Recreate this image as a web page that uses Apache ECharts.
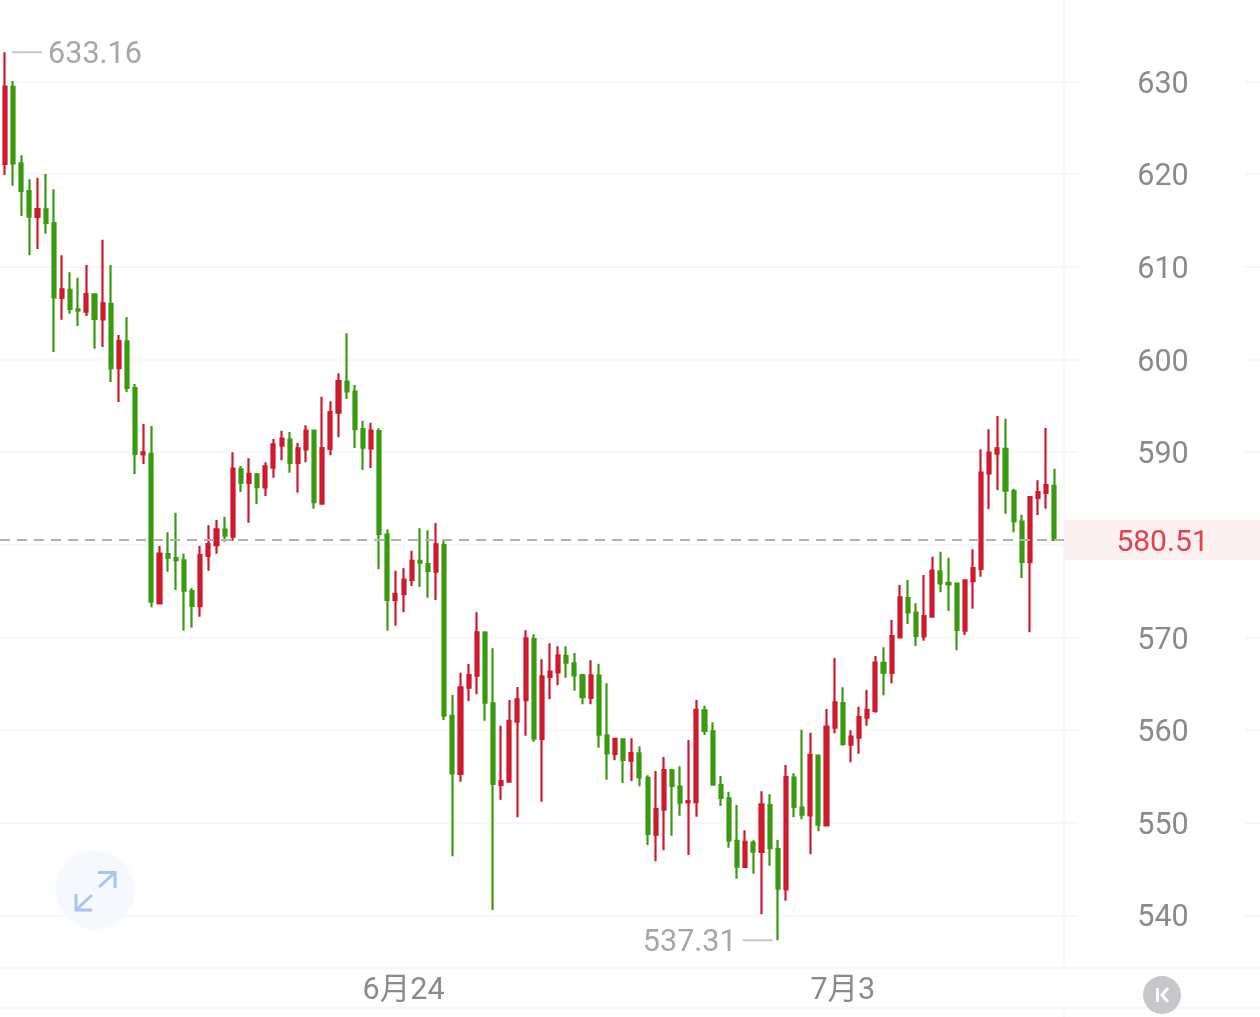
<!DOCTYPE html>
<html>
<head>
<meta charset="utf-8">
<style>html,body{margin:0;padding:0;background:#fff}#chart{width:1260px;height:1017px}</style>
<script src="https://cdn.jsdelivr.net/npm/echarts@6/dist/echarts.min.js"></script>
</head>
<body>
<div id="chart"></div>
<script>
// Four-hour candles, oldest first.
const opens = [
621.10,629.41,621.17,618.18,615.38,616.21,614.73,606.63,607.50,605.41,
605.15,607.03,604.33,605.99,599.05,601.96,596.92,589.76,589.80,573.68,
579.00,578.57,578.32,575.01,573.36,578.79,579.97,581.63,580.87,588.15,
586.67,587.61,586.20,588.32,590.69,591.34,588.83,590.30,592.31,584.43,
590.34,594.25,597.60,596.52,592.49,590.41,592.28,581.09,574.04,574.66,
576.20,578.25,577.92,577.09,579.97,561.52,555.26,564.57,565.87,570.51,
562.89,554.07,554.43,560.90,563.24,569.83,559.04,565.73,566.23,568.00,
567.20,565.91,563.46,565.87,559.44,557.42,559.00,556.70,557.49,554.83,
548.71,551.40,555.66,553.89,552.20,552.23,562.13,559.87,554.07,552.63,
548.03,545.22,547.84,546.84,551.91,547.16,542.81,554.86,551.62,550.80,
557.24,549.72,560.25,562.92,558.42,559.18,561.33,562.06,567.24,566.16,
570.01,574.25,572.67,570.12,572.23,577.14,575.90,575.80,570.72,576.07,
577.38,587.71,589.83,590.34,585.80,582.49,578.11,585.05,585.59,586.37];
const closes = [
629.44,621.17,618.18,615.41,616.24,614.73,606.71,607.57,605.45,605.26,
607.06,604.37,606.06,599.05,601.99,596.92,589.80,589.98,573.85,579.04,
578.60,578.35,575.04,573.39,578.89,580.08,581.67,580.98,588.21,586.70,
587.64,586.23,588.47,590.84,591.45,588.83,590.41,592.31,584.61,590.44,
594.33,597.67,596.56,592.49,590.48,592.31,581.16,574.04,574.69,576.23,
578.25,578.07,577.17,580.05,561.55,555.33,564.62,565.94,570.55,562.95,
554.18,554.50,560.98,563.32,569.90,559.07,565.80,566.30,568.07,567.27,
565.91,563.54,565.91,559.50,557.49,559.04,556.77,557.52,554.90,548.78,
551.48,555.69,553.96,552.16,552.34,562.17,559.90,554.10,552.67,548.10,
545.25,547.92,546.87,551.99,547.24,542.88,554.93,551.70,550.87,557.31,
549.79,560.36,563.00,558.50,559.28,561.41,562.17,567.27,566.19,570.15,
574.33,572.71,570.15,572.31,577.20,575.84,575.73,570.80,576.16,577.49,
587.78,589.94,590.41,585.83,582.53,578.14,585.15,585.69,586.45,580.51];
const lows = [
619.91,618.75,615.48,611.24,611.92,613.57,600.80,604.29,604.94,603.61,
604.69,601.16,601.34,597.57,595.41,596.49,587.64,588.72,573.25,573.64,
577.09,575.12,570.72,571.05,572.24,577.20,579.04,580.33,580.44,585.69,
582.38,584.40,585.26,587.24,589.12,587.78,585.62,588.90,583.89,584.32,
589.66,591.60,595.73,590.44,588.07,588.28,577.35,570.72,571.26,572.71,
575.55,575.44,574.29,574.04,561.09,546.38,554.43,563.14,563.86,561.01,
540.58,552.48,554.43,550.58,559.39,558.74,552.27,563.32,564.83,565.65,
564.25,562.78,562.78,558.10,554.64,556.74,554.29,554.50,553.93,547.60,
545.84,547.02,548.60,550.76,546.52,550.65,559.47,554.10,551.80,547.30,
543.96,545.22,544.50,540.12,545.36,537.31,541.58,550.58,550.37,546.59,
549.07,549.68,559.65,558.31,556.52,557.45,560.47,561.87,563.75,565.05,
569.94,571.45,569.07,569.65,572.23,574.87,572.85,568.61,570.26,573.10,
576.55,583.86,585.91,583.35,581.35,576.41,570.55,583.21,583.89,580.47];
const highs = [
633.16,630.05,622.03,619.44,619.62,620.02,618.37,611.24,609.41,608.82,
610.19,607.06,612.93,610.19,602.64,604.58,597.35,593.03,592.82,579.87,
581.35,583.46,579.04,575.33,579.87,582.10,582.67,583.03,589.98,588.50,
589.33,587.75,588.90,591.42,592.31,592.17,590.98,592.89,592.31,595.98,
595.48,598.51,602.82,597.24,593.39,593.17,592.57,581.67,577.20,577.46,
579.36,581.78,581.56,582.35,580.44,563.79,566.19,567.13,572.71,570.66,
568.82,560.47,563.24,564.65,570.77,570.34,567.64,569.36,569.04,569.04,
568.32,566.08,567.53,567.16,565.05,559.04,559.00,559.11,558.25,555.12,
555.58,557.09,555.83,556.09,558.93,563.24,562.63,560.84,555.04,553.35,
551.91,549.18,548.10,553.39,553.07,548.13,556.23,555.33,560.04,559.72,
557.28,562.27,567.78,564.62,559.97,562.52,564.32,568.00,568.93,571.88,
575.66,576.20,573.68,576.74,578.71,579.25,578.60,575.84,576.27,579.51,
590.30,592.46,593.90,593.61,586.05,583.24,585.26,586.96,592.60,588.21];

// Date labels sit under the candle that opens each of these days.
const dateTicks = {49: '6月24', 103: '7月3'};
const categories = opens.map((_, i) => dateTicks[i] || '');

const candles = opens.map((o, i) => [o, closes[i], lows[i], highs[i]]);
const lastPrice = closes[closes.length - 1];
const highest = Math.max(...highs);
const lowest = Math.min(...lows);
const highIndex = highs.indexOf(highest);
const lowIndex = lows.indexOf(lowest);

const FONT = 'Roboto, "Noto Sans CJK SC", sans-serif';
const TEXT_SIZE = 30.5;
const RULE = '#f7f7f7';
const UP = '#cf1a2e';
const DOWN = '#3a9b10';
const PLOT = {top: -11.15, height: 1019.15, outerBoundsMode: 'none'};   // keeps the 530..640 scale aligned across grids

const priceAxis = (gridIndex, extra) => Object.assign({
  type: 'value', gridIndex, min: 530, max: 640, interval: 10, scale: true,
  axisLine: {show: false}, axisTick: {show: false}, axisLabel: {show: false},
  splitLine: {show: false}
}, extra);
const hiddenX = (gridIndex) => ({type: 'value', gridIndex, min: 0, max: 1, show: false});
const hiddenY = (gridIndex) => ({type: 'value', gridIndex, min: 0, max: 1, show: false});
const ruleStyle = {color: RULE, width: 2};
const dividerAxis = (gridIndex) => ({
  type: 'value', gridIndex, min: 0, max: 1, position: 'left',
  axisLabel: {show: false}, axisTick: {show: false}, splitLine: {show: false},
  axisLine: {show: true, lineStyle: ruleStyle}
});

const extremeMark = (coord, value, lineShift, labelShift) => ({
  coord, value,
  symbol: 'rect', symbolSize: [30, 2], symbolOffset: [lineShift, 0],
  itemStyle: {color: '#c8c8c8'},
  label: {
    show: true, position: 'inside', offset: [labelShift, 3],
    formatter: String(value.toFixed(2)),
    color: '#a6a6a6', fontSize: TEXT_SIZE, fontFamily: FONT
  }
});

const option = {
  animation: false,
  backgroundColor: '#fff',
  grid: [
    Object.assign({left: 0.93, width: 1057.42}, PLOT),   // candles
    Object.assign({left: 0, width: 1078}, PLOT),         // rules and price labels
    Object.assign({left: 1245, width: 15}, PLOT),        // right-hand rule stubs
    {left: -4, right: -4, top: 968, height: 39.7, show: true, borderColor: RULE, borderWidth: 2, outerBoundsMode: 'none'}, // date strip
    {left: 1064, width: 10, top: 0, height: 968, outerBoundsMode: 'none'},      // divider above the strip
    {left: 1064, width: 10, top: 1008, height: 9, outerBoundsMode: 'none'},     // divider below the strip
    Object.assign({left: 0, width: 1064}, PLOT)          // last-price line
  ],
  xAxis: [
    {
      type: 'category', gridIndex: 0, data: categories, boundaryGap: true,
      axisLine: {show: false}, axisTick: {show: false}, splitLine: {show: false},
      axisLabel: {
        interval: 0, margin: -32, color: '#8a8a8a', fontSize: TEXT_SIZE, fontFamily: FONT,
        hideOverlap: false
      }
    },
    hiddenX(1), hiddenX(2), hiddenX(3), hiddenX(4), hiddenX(5), hiddenX(6)
  ],
  yAxis: [
    priceAxis(0),
    priceAxis(1, {
      position: 'right',
      splitLine: {show: true, lineStyle: ruleStyle},
      axisLabel: {
        show: true, margin: 85, align: 'center', showMinLabel: false, showMaxLabel: false,
        formatter: '{v|{value}}',
        rich: {v: {padding: [7, 0, 0, 0], color: '#8a8a8a', fontSize: TEXT_SIZE, fontFamily: FONT}}
      }
    }),
    priceAxis(2, {splitLine: {show: true, lineStyle: ruleStyle}}),
    hiddenY(3),
    dividerAxis(4),
    dividerAxis(5),
    priceAxis(6)
  ],
  series: [
    {
      type: 'candlestick', xAxisIndex: 0, yAxisIndex: 0, data: candles, barWidth: 3.6,
      clip: false,
      itemStyle: {color: UP, color0: DOWN, borderColor: UP, borderColor0: DOWN, borderWidth: 2.2},
      markPoint: {
        silent: true, animation: false,
        data: [
          extremeMark([highIndex, highest], highest, 22, 68),
          extremeMark([lowIndex, lowest], lowest, -20, -68)
        ]
      }
    },
    {
      type: 'line', xAxisIndex: 6, yAxisIndex: 6, data: [], z: 5, silent: true,
      markLine: {
        silent: true, symbol: 'none', animation: false,
        lineStyle: {type: [10, 7], color: '#b2b2b2', width: 2},
        data: [{yAxis: lastPrice}],
        label: {
          show: true, position: 'end', distance: 1,
          formatter: '{p|' + lastPrice.toFixed(2) + '}',
          rich: {p: {
            width: 195, height: 34, lineHeight: 34, padding: [6, 0, 0, 0], align: 'center',
            backgroundColor: '#fdf0f0', color: '#e2404f', fontSize: 30, fontFamily: FONT
          }}
        }
      }
    }
  ],
  graphic: [
    // expand button
    {type: 'circle', z: 10, shape: {cx: 95, cy: 890, r: 39}, style: {fill: '#f5f8fd', shadowBlur: 6, shadowColor: '#f5f8fd'}},
    {type: 'polyline', z: 11, shape: {points: [[98, 872.5], [115, 872.5], [115, 888]]}, style: {stroke: '#a9c3ee', lineWidth: 3, fill: 'none'}},
    {type: 'line', z: 11, shape: {x1: 115, y1: 872.5, x2: 99, y2: 887}, style: {stroke: '#a9c3ee', lineWidth: 3}},
    {type: 'polyline', z: 11, shape: {points: [[76, 894], [76, 910], [92, 910]]}, style: {stroke: '#a9c3ee', lineWidth: 3, fill: 'none'}},
    {type: 'line', z: 11, shape: {x1: 76, y1: 910, x2: 92, y2: 895}, style: {stroke: '#a9c3ee', lineWidth: 3}},
    // chart-type button
    {type: 'circle', z: 10, shape: {cx: 1162, cy: 995, r: 19}, style: {fill: '#c5c7ca'}},
    {type: 'line', z: 11, shape: {x1: 1157.5, y1: 988, x2: 1157.5, y2: 1002}, style: {stroke: '#fff', lineWidth: 3}},
    {type: 'polyline', z: 11, shape: {points: [[1168, 988], [1162, 995], [1168, 1002]]}, style: {stroke: '#fff', lineWidth: 3, fill: 'none'}}
  ]
};

echarts.init(document.getElementById('chart'), null, {renderer: 'canvas'}).setOption(option);
</script>
</body>
</html>
